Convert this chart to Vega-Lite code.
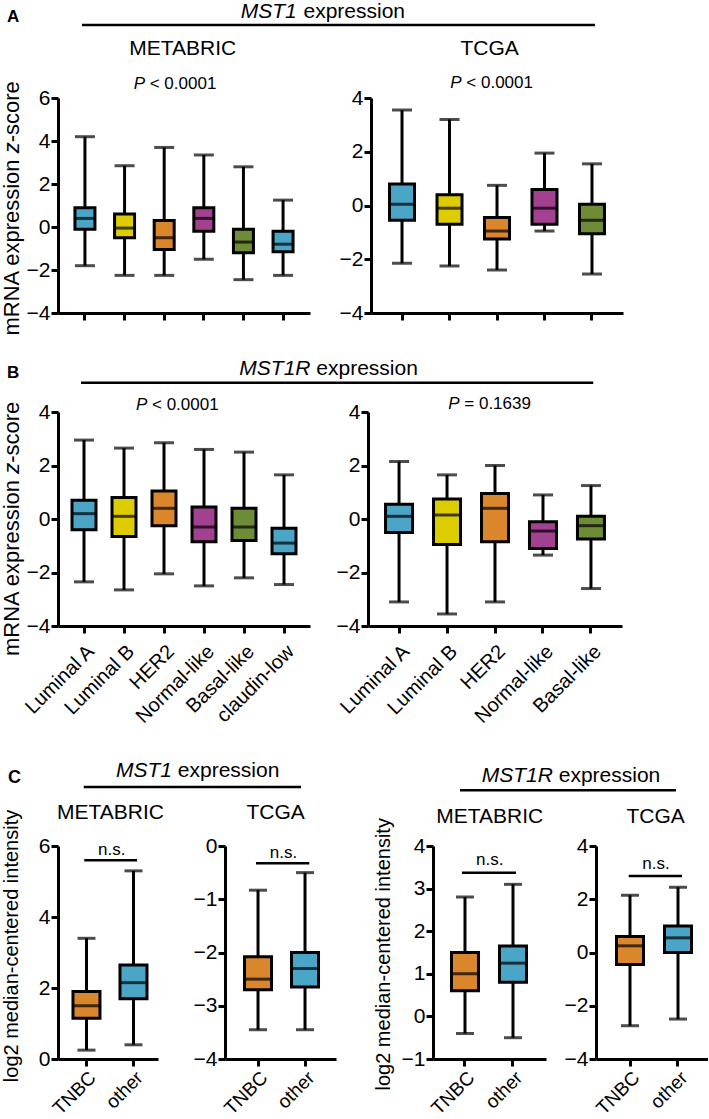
{
  "$schema": "https://vega.github.io/schema/vega-lite/v6.json",
  "padding": 0,
  "background": "white",
  "datasets": {
    "boxes": [
      {"panel": "A1", "category": "Luminal A", "min": -1.8, "q1": -0.1, "median": 0.4, "q3": 0.9, "max": 4.2},
      {"panel": "A1", "category": "Luminal B", "min": -2.25, "q1": -0.5, "median": -0.05, "q3": 0.6, "max": 2.85},
      {"panel": "A1", "category": "HER2", "min": -2.25, "q1": -1.05, "median": -0.5, "q3": 0.3, "max": 3.7},
      {"panel": "A1", "category": "Normal-like", "min": -1.5, "q1": -0.2, "median": 0.4, "q3": 0.9, "max": 3.35},
      {"panel": "A1", "category": "Basal-like", "min": -2.45, "q1": -1.2, "median": -0.7, "q3": -0.1, "max": 2.8},
      {"panel": "A1", "category": "claudin-low", "min": -2.25, "q1": -1.15, "median": -0.8, "q3": -0.2, "max": 1.25},
      {"panel": "A2", "category": "Luminal A", "min": -2.15, "q1": -0.55, "median": 0.05, "q3": 0.8, "max": 3.55},
      {"panel": "A2", "category": "Luminal B", "min": -2.25, "q1": -0.7, "median": -0.1, "q3": 0.4, "max": 3.2},
      {"panel": "A2", "category": "HER2", "min": -2.4, "q1": -1.25, "median": -0.95, "q3": -0.45, "max": 0.75},
      {"panel": "A2", "category": "Normal-like", "min": -0.95, "q1": -0.7, "median": -0.1, "q3": 0.6, "max": 1.95},
      {"panel": "A2", "category": "Basal-like", "min": -2.55, "q1": -1.05, "median": -0.55, "q3": 0.05, "max": 1.55},
      {"panel": "B1", "category": "Luminal A", "min": -2.35, "q1": -0.4, "median": 0.2, "q3": 0.7, "max": 2.95},
      {"panel": "B1", "category": "Luminal B", "min": -2.65, "q1": -0.65, "median": 0.1, "q3": 0.8, "max": 2.65},
      {"panel": "B1", "category": "HER2", "min": -2.05, "q1": -0.25, "median": 0.4, "q3": 1.05, "max": 2.85},
      {"panel": "B1", "category": "Normal-like", "min": -2.5, "q1": -0.85, "median": -0.3, "q3": 0.45, "max": 2.6},
      {"panel": "B1", "category": "Basal-like", "min": -2.2, "q1": -0.8, "median": -0.3, "q3": 0.4, "max": 2.5},
      {"panel": "B1", "category": "claudin-low", "min": -2.45, "q1": -1.3, "median": -0.9, "q3": -0.35, "max": 1.65},
      {"panel": "B2", "category": "Luminal A", "min": -3.1, "q1": -0.5, "median": 0.1, "q3": 0.55, "max": 2.15},
      {"panel": "B2", "category": "Luminal B", "min": -3.55, "q1": -0.95, "median": 0.15, "q3": 0.75, "max": 1.65},
      {"panel": "B2", "category": "HER2", "min": -3.1, "q1": -0.85, "median": 0.4, "q3": 0.95, "max": 2.0},
      {"panel": "B2", "category": "Normal-like", "min": -1.35, "q1": -1.1, "median": -0.45, "q3": -0.1, "max": 0.9},
      {"panel": "B2", "category": "Basal-like", "min": -2.6, "q1": -0.75, "median": -0.25, "q3": 0.1, "max": 1.25},
      {"panel": "C1", "category": "TNBC", "min": 0.25, "q1": 1.15, "median": 1.5, "q3": 1.9, "max": 3.4},
      {"panel": "C1", "category": "other", "min": 0.4, "q1": 1.7, "median": 2.15, "q3": 2.65, "max": 5.3},
      {"panel": "C2", "category": "TNBC", "min": -3.45, "q1": -2.7, "median": -2.5, "q3": -2.08, "max": -0.83},
      {"panel": "C2", "category": "other", "min": -3.45, "q1": -2.65, "median": -2.3, "q3": -2.0, "max": -0.5},
      {"panel": "C3", "category": "TNBC", "min": -0.4, "q1": 0.6, "median": 1.0, "q3": 1.5, "max": 2.8},
      {"panel": "C3", "category": "other", "min": -0.5, "q1": 0.8, "median": 1.25, "q3": 1.65, "max": 3.1},
      {"panel": "C4", "category": "TNBC", "min": -2.75, "q1": -0.45, "median": 0.25, "q3": 0.6, "max": 2.15},
      {"panel": "C4", "category": "other", "min": -2.5, "q1": 0.0, "median": 0.55, "q3": 1.0, "max": 2.45}
    ]
  },
  "config": {
    "font": "Liberation Sans",
    "view": {"stroke": null},
    "text": {"font": "Liberation Sans", "color": "black"},
    "axis": {
      "labelFont": "Liberation Sans", "labelFontSize": 21, "labelColor": "black",
      "domainColor": "black", "domainWidth": 3, "tickColor": "black", "tickWidth": 3, "tickSize": 7,
      "grid": false, "labelPadding": 1, "labelFlush": false, "labelOverlap": false
    }
  },
  "vconcat": [
    {
      "vconcat": [
        {
          "hconcat": [
            {
              "width": 252, "height": 215,
              "layer": [
                {
                  "data": {"name": "boxes"},
                  "transform": [{"filter": "datum.panel === 'A1'"}],
                  "encoding": {"x": {"field": "category", "type": "nominal", "sort": null, "title": null, "scale": {"paddingInner": 0, "paddingOuter": 0.18}, "axis": {"labels": false, "bandPosition": 0.5}}},
                  "layer": [
                    {"mark": {"type": "rule", "color": "black", "strokeWidth": 3}, "encoding": {"y": {"field": "min", "type": "quantitative", "title": null, "scale": {"domain": [-4, 6], "nice": false, "zero": false}, "axis": {"values": [-4, -2, 0, 2, 4, 6], "format": "d"}}, "y2": {"field": "max"}}},
                    {"mark": {"type": "bar", "size": 20, "stroke": "black", "strokeWidth": 3}, "encoding": {"y": {"field": "q1", "type": "quantitative", "title": null}, "y2": {"field": "q3"}, "color": {"field": "category", "type": "nominal", "legend": null, "scale": {"domain": ["Luminal A", "Luminal B", "HER2", "Normal-like", "Basal-like", "claudin-low", "TNBC", "other"], "range": ["#4AA5C7", "#DDCC00", "#D9862C", "#A2418F", "#6E8B36", "#4AA5C7", "#D9862C", "#4AA5C7"]}}}},
                    {"mark": {"type": "tick", "size": 20, "thickness": 3, "color": "black"}, "encoding": {"y": {"field": "min", "type": "quantitative", "title": null}}},
                    {"mark": {"type": "tick", "size": 20, "thickness": 3, "color": "black"}, "encoding": {"y": {"field": "max", "type": "quantitative", "title": null}}},
                    {"mark": {"type": "tick", "size": 20, "thickness": 3, "color": "black"}, "encoding": {"y": {"field": "median", "type": "quantitative", "title": null}}}
                  ]
                },
                {
                  "data": {"values": [{}]},
                  "layer": [
                    {"mark": {"type": "text", "text": "A", "fontSize": 17, "fontWeight": "bold", "align": "left", "baseline": "alphabetic"}, "encoding": {"x": {"datum": -0.2024, "type": "quantitative", "scale": {"domain": [0, 1]}, "axis": null}, "y": {"datum": 1.3549, "type": "quantitative", "scale": {"domain": [0, 1]}, "axis": null}}},
                    {"mark": {"type": "text", "text": "MST1", "fontStyle": "italic", "fontSize": 21, "align": "right", "baseline": "alphabetic"}, "encoding": {"x": {"datum": 0.9472, "type": "quantitative", "scale": {"domain": [0, 1]}, "axis": null}, "y": {"datum": 1.3744, "type": "quantitative", "scale": {"domain": [0, 1]}, "axis": null}}},
                    {"mark": {"type": "text", "text": "expression", "fontSize": 21, "align": "left", "baseline": "alphabetic"}, "encoding": {"x": {"datum": 0.9742, "type": "quantitative", "scale": {"domain": [0, 1]}, "axis": null}, "y": {"datum": 1.3744, "type": "quantitative", "scale": {"domain": [0, 1]}, "axis": null}}},
                    {"mark": {"type": "rule", "strokeWidth": 2.5, "color": "black"}, "encoding": {"x": {"datum": 0.0952, "type": "quantitative", "scale": {"domain": [0, 1]}, "axis": null}, "x2": {"datum": 2.131}, "y": {"datum": 1.3395, "type": "quantitative", "scale": {"domain": [0, 1]}, "axis": null}}},
                    {"mark": {"type": "text", "text": "METABRIC", "fontSize": 21, "align": "center", "baseline": "alphabetic"}, "encoding": {"x": {"datum": 0.4948, "type": "quantitative", "scale": {"domain": [0, 1]}, "axis": null}, "y": {"datum": 1.1986, "type": "quantitative", "scale": {"domain": [0, 1]}, "axis": null}}},
                    {"mark": {"type": "text", "text": "P", "fontStyle": "italic", "fontSize": 17, "align": "right", "baseline": "alphabetic"}, "encoding": {"x": {"datum": 0.3452, "type": "quantitative", "scale": {"domain": [0, 1]}, "axis": null}, "y": {"datum": 1.0433, "type": "quantitative", "scale": {"domain": [0, 1]}, "axis": null}}},
                    {"mark": {"type": "text", "text": "< 0.0001", "fontSize": 17, "align": "left", "baseline": "alphabetic"}, "encoding": {"x": {"datum": 0.3639, "type": "quantitative", "scale": {"domain": [0, 1]}, "axis": null}, "y": {"datum": 1.0433, "type": "quantitative", "scale": {"domain": [0, 1]}, "axis": null}}},
                    {"mark": {"type": "text", "text": "-score", "fontSize": 22, "angle": 270, "align": "left", "baseline": "alphabetic"}, "encoding": {"x": {"datum": -0.1567, "type": "quantitative", "scale": {"domain": [0, 1]}, "axis": null}, "y": {"datum": 0.794, "type": "quantitative", "scale": {"domain": [0, 1]}, "axis": null}}},
                    {"mark": {"type": "text", "text": "z", "fontStyle": "italic", "fontSize": 22, "angle": 270, "align": "center", "baseline": "alphabetic"}, "encoding": {"x": {"datum": -0.1567, "type": "quantitative", "scale": {"domain": [0, 1]}, "axis": null}, "y": {"datum": 0.7684, "type": "quantitative", "scale": {"domain": [0, 1]}, "axis": null}}},
                    {"mark": {"type": "text", "text": "mRNA expression", "fontSize": 22, "angle": 270, "align": "right", "baseline": "alphabetic"}, "encoding": {"x": {"datum": -0.1567, "type": "quantitative", "scale": {"domain": [0, 1]}, "axis": null}, "y": {"datum": 0.7144, "type": "quantitative", "scale": {"domain": [0, 1]}, "axis": null}}}
                  ]
                }
              ],
              "resolve": {"scale": {"x": "independent", "y": "independent"}}
            },
            {
              "width": 252, "height": 215,
              "layer": [
                {
                  "data": {"name": "boxes"},
                  "transform": [{"filter": "datum.panel === 'A2'"}],
                  "encoding": {"x": {"field": "category", "type": "nominal", "sort": null, "title": null, "scale": {"paddingInner": 0, "paddingOuter": 0.153}, "axis": {"labels": false, "bandPosition": 0.5}}},
                  "layer": [
                    {"mark": {"type": "rule", "color": "black", "strokeWidth": 3}, "encoding": {"y": {"field": "min", "type": "quantitative", "title": null, "scale": {"domain": [-4, 4], "nice": false, "zero": false}, "axis": {"values": [-4, -2, 0, 2, 4], "format": "d"}}, "y2": {"field": "max"}}},
                    {"mark": {"type": "bar", "size": 25, "stroke": "black", "strokeWidth": 3}, "encoding": {"y": {"field": "q1", "type": "quantitative", "title": null}, "y2": {"field": "q3"}, "color": {"field": "category", "type": "nominal", "legend": null, "scale": {"domain": ["Luminal A", "Luminal B", "HER2", "Normal-like", "Basal-like", "claudin-low", "TNBC", "other"], "range": ["#4AA5C7", "#DDCC00", "#D9862C", "#A2418F", "#6E8B36", "#4AA5C7", "#D9862C", "#4AA5C7"]}}}},
                    {"mark": {"type": "tick", "size": 20, "thickness": 3, "color": "black"}, "encoding": {"y": {"field": "min", "type": "quantitative", "title": null}}},
                    {"mark": {"type": "tick", "size": 20, "thickness": 3, "color": "black"}, "encoding": {"y": {"field": "max", "type": "quantitative", "title": null}}},
                    {"mark": {"type": "tick", "size": 25, "thickness": 3, "color": "black"}, "encoding": {"y": {"field": "median", "type": "quantitative", "title": null}}}
                  ]
                },
                {
                  "data": {"values": [{}]},
                  "layer": [
                    {"mark": {"type": "text", "text": "TCGA", "fontSize": 21, "align": "center", "baseline": "alphabetic"}, "encoding": {"x": {"datum": 0.471, "type": "quantitative", "scale": {"domain": [0, 1]}, "axis": null}, "y": {"datum": 1.1986, "type": "quantitative", "scale": {"domain": [0, 1]}, "axis": null}}},
                    {"mark": {"type": "text", "text": "P", "fontStyle": "italic", "fontSize": 17, "align": "right", "baseline": "alphabetic"}, "encoding": {"x": {"datum": 0.3595, "type": "quantitative", "scale": {"domain": [0, 1]}, "axis": null}, "y": {"datum": 1.045, "type": "quantitative", "scale": {"domain": [0, 1]}, "axis": null}}},
                    {"mark": {"type": "text", "text": "< 0.0001", "fontSize": 17, "align": "left", "baseline": "alphabetic"}, "encoding": {"x": {"datum": 0.3782, "type": "quantitative", "scale": {"domain": [0, 1]}, "axis": null}, "y": {"datum": 1.045, "type": "quantitative", "scale": {"domain": [0, 1]}, "axis": null}}}
                  ]
                }
              ],
              "resolve": {"scale": {"x": "independent", "y": "independent"}}
            }
          ],
          "spacing": 61,
          "bounds": "flush"
        },
        {
          "hconcat": [
            {
              "width": 252, "height": 214,
              "layer": [
                {
                  "data": {"name": "boxes"},
                  "transform": [{"filter": "datum.panel === 'B1'"}],
                  "encoding": {"x": {"field": "category", "type": "nominal", "sort": null, "title": null, "scale": {"paddingInner": 0, "paddingOuter": 0.15}, "axis": {"labelAngle": -45, "labelAlign": "right", "labelBaseline": "top", "labelFontSize": 20, "labelPadding": 8, "bandPosition": 0.5}}},
                  "layer": [
                    {"mark": {"type": "rule", "color": "black", "strokeWidth": 3}, "encoding": {"y": {"field": "min", "type": "quantitative", "title": null, "scale": {"domain": [-4, 4], "nice": false, "zero": false}, "axis": {"values": [-4, -2, 0, 2, 4], "format": "d"}}, "y2": {"field": "max"}}},
                    {"mark": {"type": "bar", "size": 24, "stroke": "black", "strokeWidth": 3}, "encoding": {"y": {"field": "q1", "type": "quantitative", "title": null}, "y2": {"field": "q3"}, "color": {"field": "category", "type": "nominal", "legend": null, "scale": {"domain": ["Luminal A", "Luminal B", "HER2", "Normal-like", "Basal-like", "claudin-low", "TNBC", "other"], "range": ["#4AA5C7", "#DDCC00", "#D9862C", "#A2418F", "#6E8B36", "#4AA5C7", "#D9862C", "#4AA5C7"]}}}},
                    {"mark": {"type": "tick", "size": 20, "thickness": 3, "color": "black"}, "encoding": {"y": {"field": "min", "type": "quantitative", "title": null}}},
                    {"mark": {"type": "tick", "size": 20, "thickness": 3, "color": "black"}, "encoding": {"y": {"field": "max", "type": "quantitative", "title": null}}},
                    {"mark": {"type": "tick", "size": 24, "thickness": 3, "color": "black"}, "encoding": {"y": {"field": "median", "type": "quantitative", "title": null}}}
                  ]
                },
                {
                  "data": {"values": [{}]},
                  "layer": [
                    {"mark": {"type": "text", "text": "B", "fontSize": 17, "fontWeight": "bold", "align": "left", "baseline": "alphabetic"}, "encoding": {"x": {"datum": -0.2024, "type": "quantitative", "scale": {"domain": [0, 1]}, "axis": null}, "y": {"datum": 1.1603, "type": "quantitative", "scale": {"domain": [0, 1]}, "axis": null}}},
                    {"mark": {"type": "text", "text": "MST1R", "fontStyle": "italic", "fontSize": 21, "align": "right", "baseline": "alphabetic"}, "encoding": {"x": {"datum": 1.002, "type": "quantitative", "scale": {"domain": [0, 1]}, "axis": null}, "y": {"datum": 1.1729, "type": "quantitative", "scale": {"domain": [0, 1]}, "axis": null}}},
                    {"mark": {"type": "text", "text": "expression", "fontSize": 21, "align": "left", "baseline": "alphabetic"}, "encoding": {"x": {"datum": 1.025, "type": "quantitative", "scale": {"domain": [0, 1]}, "axis": null}, "y": {"datum": 1.1729, "type": "quantitative", "scale": {"domain": [0, 1]}, "axis": null}}},
                    {"mark": {"type": "rule", "strokeWidth": 2.5, "color": "black"}, "encoding": {"x": {"datum": 0.0913, "type": "quantitative", "scale": {"domain": [0, 1]}, "axis": null}, "x2": {"datum": 2.124}, "y": {"datum": 1.1369, "type": "quantitative", "scale": {"domain": [0, 1]}, "axis": null}}},
                    {"mark": {"type": "text", "text": "P", "fontStyle": "italic", "fontSize": 17, "align": "right", "baseline": "alphabetic"}, "encoding": {"x": {"datum": 0.3544, "type": "quantitative", "scale": {"domain": [0, 1]}, "axis": null}, "y": {"datum": 1.008, "type": "quantitative", "scale": {"domain": [0, 1]}, "axis": null}}},
                    {"mark": {"type": "text", "text": "< 0.0001", "fontSize": 17, "align": "left", "baseline": "alphabetic"}, "encoding": {"x": {"datum": 0.373, "type": "quantitative", "scale": {"domain": [0, 1]}, "axis": null}, "y": {"datum": 1.008, "type": "quantitative", "scale": {"domain": [0, 1]}, "axis": null}}},
                    {"mark": {"type": "text", "text": "-score", "fontSize": 22, "angle": 270, "align": "left", "baseline": "alphabetic"}, "encoding": {"x": {"datum": -0.1567, "type": "quantitative", "scale": {"domain": [0, 1]}, "axis": null}, "y": {"datum": 0.7626, "type": "quantitative", "scale": {"domain": [0, 1]}, "axis": null}}},
                    {"mark": {"type": "text", "text": "z", "fontStyle": "italic", "fontSize": 22, "angle": 270, "align": "center", "baseline": "alphabetic"}, "encoding": {"x": {"datum": -0.1567, "type": "quantitative", "scale": {"domain": [0, 1]}, "axis": null}, "y": {"datum": 0.737, "type": "quantitative", "scale": {"domain": [0, 1]}, "axis": null}}},
                    {"mark": {"type": "text", "text": "mRNA expression", "fontSize": 22, "angle": 270, "align": "right", "baseline": "alphabetic"}, "encoding": {"x": {"datum": -0.1567, "type": "quantitative", "scale": {"domain": [0, 1]}, "axis": null}, "y": {"datum": 0.6827, "type": "quantitative", "scale": {"domain": [0, 1]}, "axis": null}}}
                  ]
                }
              ],
              "resolve": {"scale": {"x": "independent", "y": "independent"}}
            },
            {
              "width": 254, "height": 214,
              "layer": [
                {
                  "data": {"name": "boxes"},
                  "transform": [{"filter": "datum.panel === 'B2'"}],
                  "encoding": {"x": {"field": "category", "type": "nominal", "sort": null, "title": null, "scale": {"paddingInner": 0, "paddingOuter": 0.147}, "axis": {"labelAngle": -45, "labelAlign": "right", "labelBaseline": "top", "labelFontSize": 20, "labelPadding": 8, "bandPosition": 0.5}}},
                  "layer": [
                    {"mark": {"type": "rule", "color": "black", "strokeWidth": 3}, "encoding": {"y": {"field": "min", "type": "quantitative", "title": null, "scale": {"domain": [-4, 4], "nice": false, "zero": false}, "axis": {"values": [-4, -2, 0, 2, 4], "format": "d"}}, "y2": {"field": "max"}}},
                    {"mark": {"type": "bar", "size": 27, "stroke": "black", "strokeWidth": 3}, "encoding": {"y": {"field": "q1", "type": "quantitative", "title": null}, "y2": {"field": "q3"}, "color": {"field": "category", "type": "nominal", "legend": null, "scale": {"domain": ["Luminal A", "Luminal B", "HER2", "Normal-like", "Basal-like", "claudin-low", "TNBC", "other"], "range": ["#4AA5C7", "#DDCC00", "#D9862C", "#A2418F", "#6E8B36", "#4AA5C7", "#D9862C", "#4AA5C7"]}}}},
                    {"mark": {"type": "tick", "size": 20, "thickness": 3, "color": "black"}, "encoding": {"y": {"field": "min", "type": "quantitative", "title": null}}},
                    {"mark": {"type": "tick", "size": 20, "thickness": 3, "color": "black"}, "encoding": {"y": {"field": "max", "type": "quantitative", "title": null}}},
                    {"mark": {"type": "tick", "size": 27, "thickness": 3, "color": "black"}, "encoding": {"y": {"field": "median", "type": "quantitative", "title": null}}}
                  ]
                },
                {
                  "data": {"values": [{}]},
                  "layer": [
                    {"mark": {"type": "text", "text": "P", "fontStyle": "italic", "fontSize": 17, "align": "right", "baseline": "alphabetic"}, "encoding": {"x": {"datum": 0.3606, "type": "quantitative", "scale": {"domain": [0, 1]}, "axis": null}, "y": {"datum": 1.0126, "type": "quantitative", "scale": {"domain": [0, 1]}, "axis": null}}},
                    {"mark": {"type": "text", "text": "= 0.1639", "fontSize": 17, "align": "left", "baseline": "alphabetic"}, "encoding": {"x": {"datum": 0.3791, "type": "quantitative", "scale": {"domain": [0, 1]}, "axis": null}, "y": {"datum": 1.0126, "type": "quantitative", "scale": {"domain": [0, 1]}, "axis": null}}}
                  ]
                }
              ],
              "resolve": {"scale": {"x": "independent", "y": "independent"}}
            }
          ],
          "spacing": 58,
          "bounds": "flush"
        }
      ],
      "spacing": 314,
      "bounds": "flush"
    },
    {
      "hconcat": [
        {
          "hconcat": [
            {
              "width": 100, "height": 213,
              "layer": [
                {
                  "data": {"name": "boxes"},
                  "transform": [{"filter": "datum.panel === 'C1'"}],
                  "encoding": {"x": {"field": "category", "type": "nominal", "sort": null, "title": null, "scale": {"paddingInner": 0, "paddingOuter": 0.0638, "align": 0.83}, "axis": {"labelAngle": -45, "labelAlign": "right", "labelBaseline": "top", "labelFontSize": 19, "labelPadding": 2, "bandPosition": 0.5}}},
                  "layer": [
                    {"mark": {"type": "rule", "color": "black", "strokeWidth": 3}, "encoding": {"y": {"field": "min", "type": "quantitative", "title": null, "scale": {"domain": [0, 6], "nice": false, "zero": false}, "axis": {"values": [0, 2, 4, 6], "format": "d"}}, "y2": {"field": "max"}}},
                    {"mark": {"type": "bar", "size": 27, "stroke": "black", "strokeWidth": 3}, "encoding": {"y": {"field": "q1", "type": "quantitative", "title": null}, "y2": {"field": "q3"}, "color": {"field": "category", "type": "nominal", "legend": null, "scale": {"domain": ["Luminal A", "Luminal B", "HER2", "Normal-like", "Basal-like", "claudin-low", "TNBC", "other"], "range": ["#4AA5C7", "#DDCC00", "#D9862C", "#A2418F", "#6E8B36", "#4AA5C7", "#D9862C", "#4AA5C7"]}}}},
                    {"mark": {"type": "tick", "size": 18, "thickness": 3, "color": "black"}, "encoding": {"y": {"field": "min", "type": "quantitative", "title": null}}},
                    {"mark": {"type": "tick", "size": 18, "thickness": 3, "color": "black"}, "encoding": {"y": {"field": "max", "type": "quantitative", "title": null}}},
                    {"mark": {"type": "tick", "size": 27, "thickness": 3, "color": "black"}, "encoding": {"y": {"field": "median", "type": "quantitative", "title": null}}}
                  ]
                },
                {
                  "data": {"values": [{}]},
                  "layer": [
                    {"mark": {"type": "text", "text": "C", "fontSize": 18, "fontWeight": "bold", "align": "left", "baseline": "alphabetic"}, "encoding": {"x": {"datum": -0.5, "type": "quantitative", "scale": {"domain": [0, 1]}, "axis": null}, "y": {"datum": 1.2972, "type": "quantitative", "scale": {"domain": [0, 1]}, "axis": null}}},
                    {"mark": {"type": "text", "text": "MST1", "fontStyle": "italic", "fontSize": 21, "align": "right", "baseline": "alphabetic"}, "encoding": {"x": {"datum": 1.14, "type": "quantitative", "scale": {"domain": [0, 1]}, "axis": null}, "y": {"datum": 1.324, "type": "quantitative", "scale": {"domain": [0, 1]}, "axis": null}}},
                    {"mark": {"type": "text", "text": "expression", "fontSize": 21, "align": "left", "baseline": "alphabetic"}, "encoding": {"x": {"datum": 1.198, "type": "quantitative", "scale": {"domain": [0, 1]}, "axis": null}, "y": {"datum": 1.324, "type": "quantitative", "scale": {"domain": [0, 1]}, "axis": null}}},
                    {"mark": {"type": "rule", "strokeWidth": 2.5, "color": "black"}, "encoding": {"x": {"datum": 0.257, "type": "quantitative", "scale": {"domain": [0, 1]}, "axis": null}, "x2": {"datum": 2.43}, "y": {"datum": 1.277, "type": "quantitative", "scale": {"domain": [0, 1]}, "axis": null}}},
                    {"mark": {"type": "text", "text": "METABRIC", "fontSize": 21, "align": "center", "baseline": "alphabetic"}, "encoding": {"x": {"datum": 0.525, "type": "quantitative", "scale": {"domain": [0, 1]}, "axis": null}, "y": {"datum": 1.1254, "type": "quantitative", "scale": {"domain": [0, 1]}, "axis": null}}},
                    {"mark": {"type": "text", "text": "n.s.", "fontSize": 17, "align": "center", "baseline": "alphabetic"}, "encoding": {"x": {"datum": 0.538, "type": "quantitative", "scale": {"domain": [0, 1]}, "axis": null}, "y": {"datum": 0.9577, "type": "quantitative", "scale": {"domain": [0, 1]}, "axis": null}}},
                    {"mark": {"type": "rule", "strokeWidth": 2.5, "color": "black"}, "encoding": {"x": {"datum": 0.263, "type": "quantitative", "scale": {"domain": [0, 1]}, "axis": null}, "x2": {"datum": 0.79}, "y": {"datum": 0.9329, "type": "quantitative", "scale": {"domain": [0, 1]}, "axis": null}}},
                    {"mark": {"type": "text", "text": "log2 median-centered intensity", "fontSize": 20, "angle": 270, "align": "center", "baseline": "alphabetic"}, "encoding": {"x": {"datum": -0.403, "type": "quantitative", "scale": {"domain": [0, 1]}, "axis": null}, "y": {"datum": 0.5305, "type": "quantitative", "scale": {"domain": [0, 1]}, "axis": null}}}
                  ]
                }
              ],
              "resolve": {"scale": {"x": "independent", "y": "independent"}}
            },
            {
              "width": 111, "height": 213,
              "layer": [
                {
                  "data": {"name": "boxes"},
                  "transform": [{"filter": "datum.panel === 'C2'"}],
                  "encoding": {"x": {"field": "category", "type": "nominal", "sort": null, "title": null, "scale": {"paddingInner": 0, "paddingOuter": 0.181, "align": 0.56}, "axis": {"labelAngle": -45, "labelAlign": "right", "labelBaseline": "top", "labelFontSize": 19, "labelPadding": 2, "bandPosition": 0.5}}},
                  "layer": [
                    {"mark": {"type": "rule", "color": "black", "strokeWidth": 3}, "encoding": {"y": {"field": "min", "type": "quantitative", "title": null, "scale": {"domain": [-4, 0], "nice": false, "zero": false}, "axis": {"values": [-4, -3, -2, -1, 0], "format": "d"}}, "y2": {"field": "max"}}},
                    {"mark": {"type": "bar", "size": 27, "stroke": "black", "strokeWidth": 3}, "encoding": {"y": {"field": "q1", "type": "quantitative", "title": null}, "y2": {"field": "q3"}, "color": {"field": "category", "type": "nominal", "legend": null, "scale": {"domain": ["Luminal A", "Luminal B", "HER2", "Normal-like", "Basal-like", "claudin-low", "TNBC", "other"], "range": ["#4AA5C7", "#DDCC00", "#D9862C", "#A2418F", "#6E8B36", "#4AA5C7", "#D9862C", "#4AA5C7"]}}}},
                    {"mark": {"type": "tick", "size": 18, "thickness": 3, "color": "black"}, "encoding": {"y": {"field": "min", "type": "quantitative", "title": null}}},
                    {"mark": {"type": "tick", "size": 18, "thickness": 3, "color": "black"}, "encoding": {"y": {"field": "max", "type": "quantitative", "title": null}}},
                    {"mark": {"type": "tick", "size": 27, "thickness": 3, "color": "black"}, "encoding": {"y": {"field": "median", "type": "quantitative", "title": null}}}
                  ]
                },
                {
                  "data": {"values": [{}]},
                  "layer": [
                    {"mark": {"type": "text", "text": "TCGA", "fontSize": 21, "align": "center", "baseline": "alphabetic"}, "encoding": {"x": {"datum": 0.4568, "type": "quantitative", "scale": {"domain": [0, 1]}, "axis": null}, "y": {"datum": 1.1254, "type": "quantitative", "scale": {"domain": [0, 1]}, "axis": null}}},
                    {"mark": {"type": "text", "text": "n.s.", "fontSize": 17, "align": "center", "baseline": "alphabetic"}, "encoding": {"x": {"datum": 0.527, "type": "quantitative", "scale": {"domain": [0, 1]}, "axis": null}, "y": {"datum": 0.945, "type": "quantitative", "scale": {"domain": [0, 1]}, "axis": null}}},
                    {"mark": {"type": "rule", "strokeWidth": 2.5, "color": "black"}, "encoding": {"x": {"datum": 0.279, "type": "quantitative", "scale": {"domain": [0, 1]}, "axis": null}, "x2": {"datum": 0.7595}, "y": {"datum": 0.9188, "type": "quantitative", "scale": {"domain": [0, 1]}, "axis": null}}}
                  ]
                }
              ],
              "resolve": {"scale": {"x": "independent", "y": "independent"}}
            }
          ],
          "spacing": 67,
          "bounds": "flush"
        },
        {
          "hconcat": [
            {
              "width": 113, "height": 213,
              "layer": [
                {
                  "data": {"name": "boxes"},
                  "transform": [{"filter": "datum.panel === 'C3'"}],
                  "encoding": {"x": {"field": "category", "type": "nominal", "sort": null, "title": null, "scale": {"paddingInner": 0, "paddingOuter": 0.177, "align": 0.47}, "axis": {"labelAngle": -45, "labelAlign": "right", "labelBaseline": "top", "labelFontSize": 19, "labelPadding": 2, "bandPosition": 0.5}}},
                  "layer": [
                    {"mark": {"type": "rule", "color": "black", "strokeWidth": 3}, "encoding": {"y": {"field": "min", "type": "quantitative", "title": null, "scale": {"domain": [-1, 4], "nice": false, "zero": false}, "axis": {"values": [-1, 0, 1, 2, 3, 4], "format": "d"}}, "y2": {"field": "max"}}},
                    {"mark": {"type": "bar", "size": 27, "stroke": "black", "strokeWidth": 3}, "encoding": {"y": {"field": "q1", "type": "quantitative", "title": null}, "y2": {"field": "q3"}, "color": {"field": "category", "type": "nominal", "legend": null, "scale": {"domain": ["Luminal A", "Luminal B", "HER2", "Normal-like", "Basal-like", "claudin-low", "TNBC", "other"], "range": ["#4AA5C7", "#DDCC00", "#D9862C", "#A2418F", "#6E8B36", "#4AA5C7", "#D9862C", "#4AA5C7"]}}}},
                    {"mark": {"type": "tick", "size": 18, "thickness": 3, "color": "black"}, "encoding": {"y": {"field": "min", "type": "quantitative", "title": null}}},
                    {"mark": {"type": "tick", "size": 18, "thickness": 3, "color": "black"}, "encoding": {"y": {"field": "max", "type": "quantitative", "title": null}}},
                    {"mark": {"type": "tick", "size": 27, "thickness": 3, "color": "black"}, "encoding": {"y": {"field": "median", "type": "quantitative", "title": null}}}
                  ]
                },
                {
                  "data": {"values": [{}]},
                  "layer": [
                    {"mark": {"type": "text", "text": "MST1R", "fontStyle": "italic", "fontSize": 21, "align": "right", "baseline": "alphabetic"}, "encoding": {"x": {"datum": 1.0611, "type": "quantitative", "scale": {"domain": [0, 1]}, "axis": null}, "y": {"datum": 1.3019, "type": "quantitative", "scale": {"domain": [0, 1]}, "axis": null}}},
                    {"mark": {"type": "text", "text": "expression", "fontSize": 21, "align": "left", "baseline": "alphabetic"}, "encoding": {"x": {"datum": 1.1124, "type": "quantitative", "scale": {"domain": [0, 1]}, "axis": null}, "y": {"datum": 1.3019, "type": "quantitative", "scale": {"domain": [0, 1]}, "axis": null}}},
                    {"mark": {"type": "rule", "strokeWidth": 2.5, "color": "black"}, "encoding": {"x": {"datum": 0.239, "type": "quantitative", "scale": {"domain": [0, 1]}, "axis": null}, "x2": {"datum": 2.15}, "y": {"datum": 1.2615, "type": "quantitative", "scale": {"domain": [0, 1]}, "axis": null}}},
                    {"mark": {"type": "text", "text": "METABRIC", "fontSize": 21, "align": "center", "baseline": "alphabetic"}, "encoding": {"x": {"datum": 0.5027, "type": "quantitative", "scale": {"domain": [0, 1]}, "axis": null}, "y": {"datum": 1.1094, "type": "quantitative", "scale": {"domain": [0, 1]}, "axis": null}}},
                    {"mark": {"type": "text", "text": "n.s.", "fontSize": 17, "align": "center", "baseline": "alphabetic"}, "encoding": {"x": {"datum": 0.5027, "type": "quantitative", "scale": {"domain": [0, 1]}, "axis": null}, "y": {"datum": 0.9108, "type": "quantitative", "scale": {"domain": [0, 1]}, "axis": null}}},
                    {"mark": {"type": "rule", "strokeWidth": 2.5, "color": "black"}, "encoding": {"x": {"datum": 0.2566, "type": "quantitative", "scale": {"domain": [0, 1]}, "axis": null}, "x2": {"datum": 0.7345}, "y": {"datum": 0.8746, "type": "quantitative", "scale": {"domain": [0, 1]}, "axis": null}}},
                    {"mark": {"type": "text", "text": "log2 median-centered intensity", "fontSize": 20, "angle": 270, "align": "center", "baseline": "alphabetic"}, "encoding": {"x": {"datum": -0.378, "type": "quantitative", "scale": {"domain": [0, 1]}, "axis": null}, "y": {"datum": 0.4915, "type": "quantitative", "scale": {"domain": [0, 1]}, "axis": null}}}
                  ]
                }
              ],
              "resolve": {"scale": {"x": "independent", "y": "independent"}}
            },
            {
              "width": 112, "height": 213,
              "layer": [
                {
                  "data": {"name": "boxes"},
                  "transform": [{"filter": "datum.panel === 'C4'"}],
                  "encoding": {"x": {"field": "category", "type": "nominal", "sort": null, "title": null, "scale": {"paddingInner": 0, "paddingOuter": 0.1667, "align": 0.625}, "axis": {"labelAngle": -45, "labelAlign": "right", "labelBaseline": "top", "labelFontSize": 19, "labelPadding": 2, "bandPosition": 0.5}}},
                  "layer": [
                    {"mark": {"type": "rule", "color": "black", "strokeWidth": 3}, "encoding": {"y": {"field": "min", "type": "quantitative", "title": null, "scale": {"domain": [-4, 4], "nice": false, "zero": false}, "axis": {"values": [-4, -2, 0, 2, 4], "format": "d"}}, "y2": {"field": "max"}}},
                    {"mark": {"type": "bar", "size": 27, "stroke": "black", "strokeWidth": 3}, "encoding": {"y": {"field": "q1", "type": "quantitative", "title": null}, "y2": {"field": "q3"}, "color": {"field": "category", "type": "nominal", "legend": null, "scale": {"domain": ["Luminal A", "Luminal B", "HER2", "Normal-like", "Basal-like", "claudin-low", "TNBC", "other"], "range": ["#4AA5C7", "#DDCC00", "#D9862C", "#A2418F", "#6E8B36", "#4AA5C7", "#D9862C", "#4AA5C7"]}}}},
                    {"mark": {"type": "tick", "size": 18, "thickness": 3, "color": "black"}, "encoding": {"y": {"field": "min", "type": "quantitative", "title": null}}},
                    {"mark": {"type": "tick", "size": 18, "thickness": 3, "color": "black"}, "encoding": {"y": {"field": "max", "type": "quantitative", "title": null}}},
                    {"mark": {"type": "tick", "size": 27, "thickness": 3, "color": "black"}, "encoding": {"y": {"field": "median", "type": "quantitative", "title": null}}}
                  ]
                },
                {
                  "data": {"values": [{}]},
                  "layer": [
                    {"mark": {"type": "text", "text": "TCGA", "fontSize": 21, "align": "center", "baseline": "alphabetic"}, "encoding": {"x": {"datum": 0.533, "type": "quantitative", "scale": {"domain": [0, 1]}, "axis": null}, "y": {"datum": 1.1094, "type": "quantitative", "scale": {"domain": [0, 1]}, "axis": null}}},
                    {"mark": {"type": "text", "text": "n.s.", "fontSize": 17, "align": "center", "baseline": "alphabetic"}, "encoding": {"x": {"datum": 0.5357, "type": "quantitative", "scale": {"domain": [0, 1]}, "axis": null}, "y": {"datum": 0.8906, "type": "quantitative", "scale": {"domain": [0, 1]}, "axis": null}}},
                    {"mark": {"type": "rule", "strokeWidth": 2.5, "color": "black"}, "encoding": {"x": {"datum": 0.292, "type": "quantitative", "scale": {"domain": [0, 1]}, "axis": null}, "x2": {"datum": 0.768}, "y": {"datum": 0.8592, "type": "quantitative", "scale": {"domain": [0, 1]}, "axis": null}}}
                  ]
                }
              ],
              "resolve": {"scale": {"x": "independent", "y": "independent"}}
            }
          ],
          "spacing": 50,
          "bounds": "flush"
        }
      ],
      "spacing": 375,
      "bounds": "flush"
    }
  ],
  "spacing": 748,
  "bounds": "flush"
}
